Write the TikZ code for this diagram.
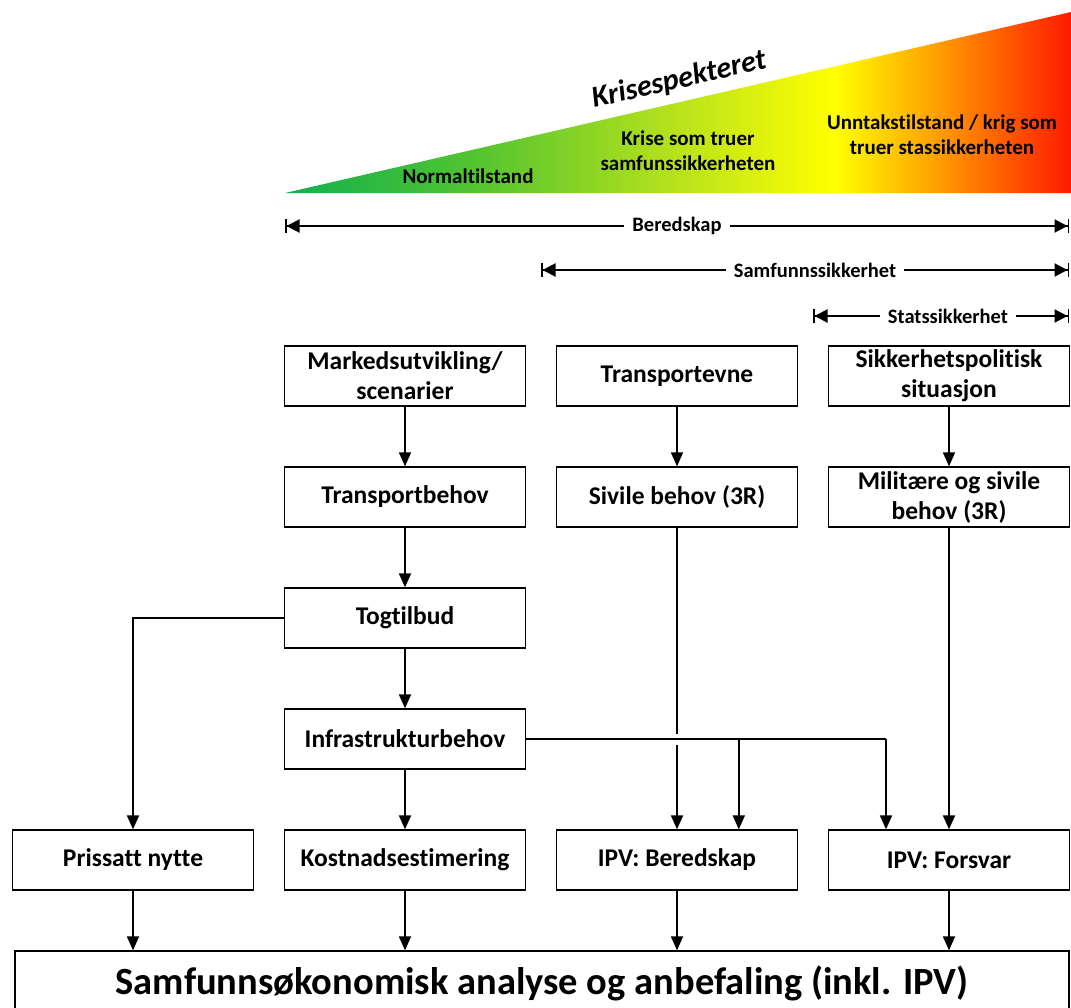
\documentclass[tikz,border=0pt]{standalone}
\usepackage{fontspec}
\setmainfont{Carlito}[Ligatures=NoCommon]
\usetikzlibrary{arrows.meta,positioning,calc}
\definecolor{kgreen}{RGB}{16,176,80}
\definecolor{klime}{RGB}{80,195,50}
\definecolor{kyellowgreen}{RGB}{190,228,25}
\definecolor{kyellow}{RGB}{255,255,0}
\definecolor{korange}{RGB}{255,165,0}
\definecolor{kred}{RGB}{255,25,0}

\begin{document}
\begin{tikzpicture}[
    x=1pt, y=-1pt,
    box/.style={draw=black, line width=1.3pt, minimum width=241pt, minimum height=60pt, align=center, inner sep=2pt, font=\bfseries\fontsize{25.5}{30}\selectfont},
    conn/.style={-{Triangle[width=12pt,length=14pt]}, line width=1.8pt},
    line/.style={line width=1.8pt},
    span/.style={{Bar[width=14pt,line width=1.5pt]Triangle[width=13pt,length=13pt]}-{Triangle[width=13pt,length=13pt]Bar[width=14pt,line width=1.5pt]}, line width=2pt},
    spanlbl/.style={fill=white, inner xsep=8pt, inner ysep=1pt, font=\bfseries\fontsize{20.5}{22}\selectfont},
    zone/.style={align=center, font=\bfseries\fontsize{21}{25}\selectfont}
]
\useasboundingbox (0,0) rectangle (1071,1007);

% crisis spectrum wedge
\begin{scope}
  \clip (285,193) -- (1071,12) -- (1071,193) -- cycle;
  \shade[left color=kgreen, right color=klime] (284,0) rectangle (470,200);
  \shade[left color=klime, right color=kyellowgreen] (469.5,0) rectangle (690,200);
  \shade[left color=kyellowgreen, right color=kyellow] (689.5,0) rectangle (835,200);
  \shade[left color=kyellow, right color=korange] (834.5,0) rectangle (930,200);
  \shade[left color=korange, right color=kred] (929.5,0) rectangle (1072,200);
\end{scope}
\node[rotate=12.97, font=\bfseries\itshape\fontsize{30}{34}\selectfont] (spekter) at (679,80) {Krisespekteret};
\node[zone] (normal) at (468,176) {Normaltilstand};
\node[zone] (krise) at (688,151) {Krise som truer\\samfunssikkerheten};
\node[zone] (krig) at (942,135) {Unntakstilstand / krig som\\truer stassikkerheten};

% spans
\coordinate (b1) at (285,226);  \coordinate (b2) at (1069,226);
\coordinate (s1) at (541,270);  \coordinate (s2) at (1069,270);
\coordinate (t1) at (813,316);  \coordinate (t2) at (1069,316);
\draw[span] (b1) -- node[spanlbl] {Beredskap} (b2);
\draw[span] (s1) -- node[spanlbl, pos=0.519] {Samfunnssikkerhet} (s2);
\draw[span] (t1) -- node[spanlbl, pos=0.527] {Statssikkerhet} (t2);

% boxes
\node[box] (marked) at (405,376) {Markedsutvikling/\\scenarier};
\node[box, below=59.7pt of marked] (tbehov) {Transportbehov};
\node[box, below=59.7pt of tbehov] (tog) {Togtilbud};
\node[box, below=59.7pt of tog] (infra) {Infrastrukturbehov};
\node[box, below=59.7pt of infra] (kost) {Kostnadsestimering};
\node[box, left=29.7pt of kost] (nytte) {Prissatt nytte};

\node[box, right=29.7pt of marked] (tevne) {Transportevne};
\node[box, below=59.7pt of tevne] (sivile) {Sivile behov (3R)};
\node[box, right=29.7pt of kost] (ipvb) {IPV: Beredskap};

\node[box, right=29.7pt of tevne] (sikk) {Sikkerhetspolitisk\\situasjon};
\node[box, below=59.7pt of sikk] (milit) {Militære og sivile\\behov (3R)};
\node[box, right=29.7pt of ipvb] (ipvf) {IPV: Forsvar};

\node[draw=black, line width=1.3pt, minimum width=1054pt, minimum height=64pt, font=\bfseries\fontsize{38.5}{42}\selectfont] (analyse) at (542,983) {Samfunnsøkonomisk analyse og anbefaling (inkl. IPV)};

% connectors
\draw[conn] (marked) -- (tbehov);
\draw[conn] (tbehov) -- (tog);
\draw[conn] (tog) -- (infra);
\draw[conn] (infra) -- (kost);
\draw[conn] (tog.west) -| (nytte.north);
\draw[conn] (tevne) -- (sivile);
\draw[conn] (sivile) -- (ipvb);
\draw[conn] (sikk) -- (milit);
\draw[conn] (milit) -- (ipvf);

\coordinate (jb) at ($(ipvb.north west)!0.755!(ipvb.north east)$);
\coordinate (jf) at ($(ipvf.north west)!0.24!(ipvf.north east)$);
\draw[line, preaction={draw=white, line width=11pt, shorten <=3pt}] (infra.east) -- (jf |- infra.east);
\draw[conn] (jb |- infra.east) -- (jb);
\draw[conn] (jf |- infra.east) -- (jf);

\foreach \src in {nytte, kost, ipvb, ipvf}
  \draw[conn] (\src) -- (\src |- analyse.north);

\end{tikzpicture}
\end{document}
